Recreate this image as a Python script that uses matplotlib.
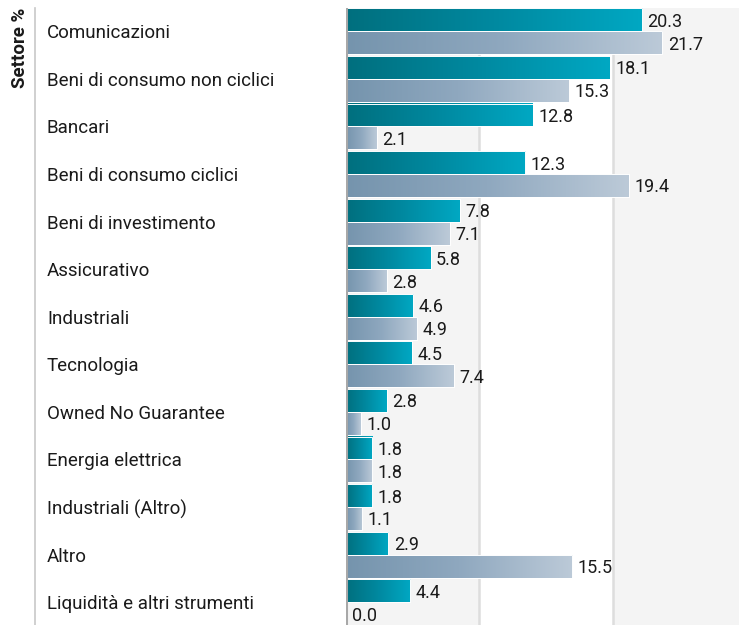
import numpy as np
import matplotlib
matplotlib.use("Agg")
import matplotlib.pyplot as plt
from matplotlib.colors import LinearSegmentedColormap
from matplotlib.lines import Line2D

plt.rcParams['font.family'] = ['Roboto', 'DejaVu Sans']

# Data
categories = ['Comunicazioni', 'Beni di consumo non ciclici', 'Bancari',
              'Beni di consumo ciclici', 'Beni di investimento', 'Assicurativo',
              'Industriali', 'Tecnologia', 'Owned No Guarantee',
              'Energia elettrica', 'Industriali (Altro)', 'Altro',
              'Liquidità e altri strumenti']
fund = [20.3, 18.1, 12.8, 12.3, 7.8, 5.8, 4.6, 4.5, 2.8, 1.8, 1.8, 2.9, 4.4]
bench = [21.7, 15.3, 2.1, 19.4, 7.1, 2.8, 4.9, 7.4, 1.0, 1.8, 1.1, 15.5, 0.0]
axis_title = 'Settore %'

W, H = 739, 625
fig = plt.figure(figsize=(W / 100, H / 100), dpi=100)
ax = fig.add_axes([346 / W, 0, 393 / W, 617 / H])

xmax = 26.95
band = 9.15
ax.set_xlim(0, xmax)
ax.set_ylim(len(categories) - 0.52, -0.49)

# background bands
for k in range(3):
    if k % 2 == 0:
        ax.axvspan(k * band, (k + 1) * band, color='#f4f4f4', zorder=0, lw=0)
for k in (1, 2):
    ax.axvline(k * band, color='#dddddd', lw=1.8, zorder=0.5)

teal = LinearSegmentedColormap.from_list('teal', ['#006f7e', '#0089a0', '#00a8c3'])
grey = LinearSegmentedColormap.from_list('grey', ['#7594ad', '#8fa8bf', '#bccad8'])
grad = np.linspace(0, 1, 256).reshape(1, -1)

y = np.arange(len(categories))
h = 0.482
b1 = ax.barh(y - h / 2, fund, height=h, facecolor='none', edgecolor='none')
b2 = ax.barh(y + h / 2, bench, height=h, facecolor='none', edgecolor='none')

for bars, cmap in ((b1, teal), (b2, grey)):
    for p in bars:
        x0, y0 = p.get_x(), p.get_y()
        w, hh = p.get_width(), p.get_height()
        if w <= 0:
            continue
        ax.imshow(grad, cmap=cmap, aspect='auto', extent=[x0, x0 + w, y0 + hh, y0],
                  zorder=2, interpolation='bicubic')
        ax.add_patch(plt.Rectangle((x0, y0), w, hh, facecolor='none',
                                   edgecolor='white', lw=0.7, zorder=3))

for bars, vals in ((b1, fund), (b2, bench)):
    for p, v in zip(bars, vals):
        ax.annotate(f'{v:.1f}', (p.get_width(), p.get_y() + p.get_height() / 2),
                    xytext=(4, 0), textcoords='offset points', ha='left',
                    va='center_baseline', fontsize=13, color='#1a1a1a', zorder=4)

ax.axvline(0, color='#a8a8a8', lw=2.2, zorder=5)

# category labels
tr = ax.get_yaxis_transform()
for i, c in enumerate(categories):
    ax.text(-0.761, i, c, transform=tr, ha='left', va='center_baseline',
            fontsize=13.5, color='#1a1a1a')

ax.add_line(Line2D([-0.791, -0.791], [0, 1], transform=ax.transAxes,
                   color='#c8c8c8', lw=1.2, clip_on=False))
ax.text(-0.83, 1.0, axis_title, transform=ax.transAxes, rotation=90,
        ha='center', va='top', fontsize=13.5, fontweight='bold', color='#1a1a1a')

ax.set_xticks([])
ax.set_yticks([])
for s in ax.spines.values():
    s.set_visible(False)

fig.savefig('out.png', dpi=100)
